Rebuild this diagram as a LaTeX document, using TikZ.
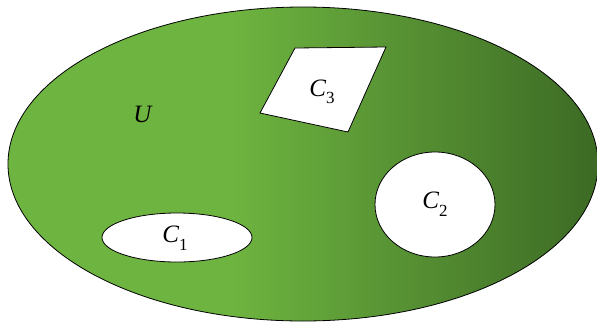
\documentclass[tikz,border=0pt]{standalone}
\usepackage{fontspec}
\setmainfont{Liberation Serif}
\definecolor{greenlight}{RGB}{110,180,64}
\definecolor{greendark}{RGB}{60,106,36}
\pgfdeclarehorizontalshading{greenfade}{100bp}{color(0bp)=(greenlight); color(25bp)=(greenlight); color(44bp)=(greenlight); color(75bp)=(greendark); color(100bp)=(greendark)}
\newcommand{\setname}[2]{\textit{#1}\raisebox{-0.3em}{\fontsize{17}{20}\selectfont #2}}
\tikzset{
	hole/.style={draw=black, line width=0.8pt, fill=white},
	setlabel/.style={font=\fontsize{25}{30}\selectfont}
}
\begin{document}
\begin{tikzpicture}[x=1pt, y=-1pt]
	\useasboundingbox (0,0) rectangle (597,322);
	\shade[shading=greenfade, draw=black, line width=0.8pt] (303,164) ellipse (295 and 157);
	\draw[hole] (177,237.5) ellipse (75 and 24.5);
	\draw[hole] (435,204.5) ellipse (60 and 52.5);
	\draw[hole] (295,48) -- (386,47) -- (348,132) -- (260,113) -- cycle;
	\node[setlabel] (lblU) at (143,114) {\textit{U}};
	\node[setlabel] (lblC1) at (175,238) {\setname{C}{1}};
	\node[setlabel] (lblC2) at (435,204) {\setname{C}{2}};
	\node[setlabel] (lblC3) at (322,92) {\setname{C}{3}};
\end{tikzpicture}
\end{document}
